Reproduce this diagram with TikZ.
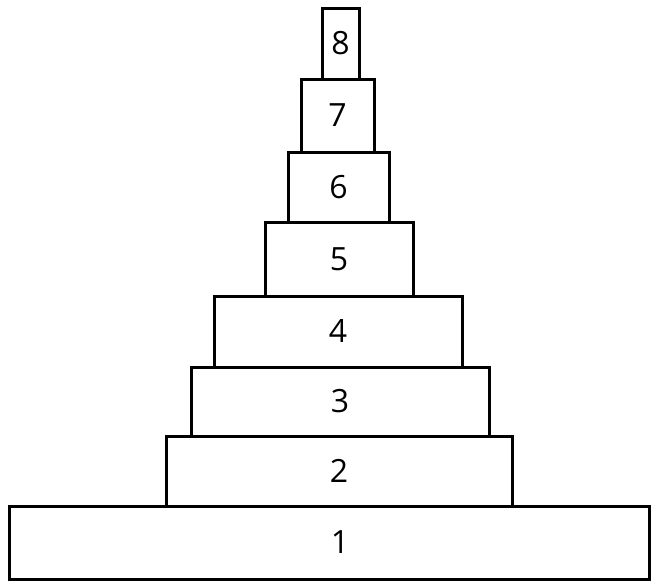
\documentclass[tikz,border=0pt]{standalone}
\usepackage{fontspec}
\setmainfont{Open Sans}
\begin{document}
\begin{tikzpicture}[x=1pt,y=-1pt,
  blk/.style={draw=black,line width=3pt,fill=white,inner sep=0pt,
    font=\fontsize{32}{38}\selectfont,text=black},
  lbl/.style={inner sep=0pt,font=\fontsize{32}{38}\selectfont,text=black}]
\useasboundingbox (0,0) rectangle (652,581);
\fill[white] (0,0) rectangle (652,581);
\node[blk,minimum width=640pt,minimum height=73pt] (b1) at (329,542.5) {};
\node[lbl] (l1) at (340,542.5) {1};
\node[blk,minimum width=346pt,minimum height=70pt] (b2) at (339,471) {2};
\node[blk,minimum width=298pt,minimum height=69pt] (b3) at (340,401.5) {3};
\node[blk,minimum width=248pt,minimum height=71pt] (b4) at (338,331.5) {4};
\node[blk,minimum width=148pt,minimum height=74pt] (b5) at (339,259) {5};
\node[blk,minimum width=101pt,minimum height=70pt] (b6) at (338.5,187) {6};
\node[blk,minimum width=73pt,minimum height=73pt] (b7) at (337.5,115.5) {7};
\node[blk,minimum width=37pt,minimum height=71pt] (b8) at (340.5,43.5) {8};
\end{tikzpicture}
\end{document}
